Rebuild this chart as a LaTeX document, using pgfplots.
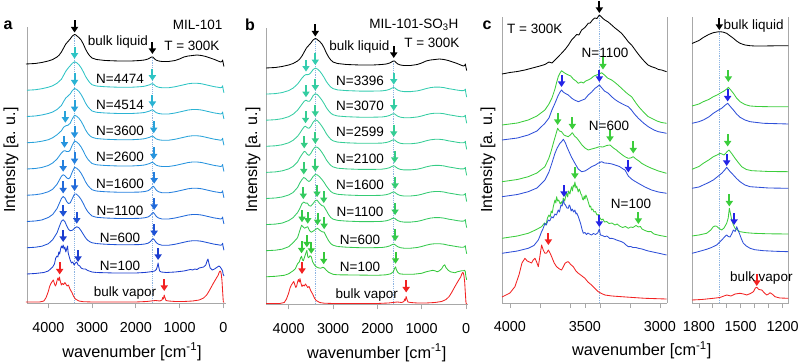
\documentclass[border=0pt]{standalone}
\usepackage{fontspec}
\setmainfont{Liberation Sans}
\usepackage{pgfplots}
\usepackage{pgfplotstable}
\pgfplotsset{compat=1.18}
\usetikzlibrary{arrows.meta}

\definecolor{axgray}{HTML}{A8A8A8}
\definecolor{vlineblue}{HTML}{8DB4E2}
\definecolor{vred}{HTML}{F22222}
\definecolor{a4474}{HTML}{2EC4C4}
\definecolor{a4514}{HTML}{2BB3D3}
\definecolor{a3600}{HTML}{29A3DA}
\definecolor{a2600}{HTML}{2794DE}
\definecolor{a1600}{HTML}{2580DE}
\definecolor{a1100}{HTML}{226ADA}
\definecolor{a600}{HTML}{1F52D5}
\definecolor{a100}{HTML}{1C3DD0}
\definecolor{b3396}{HTML}{35CDB0}
\definecolor{b3070}{HTML}{35CDA2}
\definecolor{b2599}{HTML}{35CD95}
\definecolor{b2100}{HTML}{35CC86}
\definecolor{b1600}{HTML}{35CB74}
\definecolor{b1100}{HTML}{35CA60}
\definecolor{b600}{HTML}{35C94C}
\definecolor{b100}{HTML}{35C83A}
\definecolor{cgreen}{HTML}{3CCD3C}
\definecolor{cblue}{HTML}{2F50D8}
\definecolor{ablue}{HTML}{2424E6}

\newcommand\lab{\fontsize{13.5}{15}\selectfont}
\newcommand\arr[3]{\draw[arw,#1] (axis cs:#2,#3) -- ++(0pt,12pt);}
\newcommand\vl[2]{\addplot[color=vlineblue, line width=0.6pt, dash pattern=on 1.2pt off 1pt] coordinates {(#1,0) (#1,#2)};}

\tikzset{
  arw/.style={{Triangle[width=7pt,length=5.5pt]}-, line width=2pt},
}
\pgfplotsset{
  panel/.style={
    scale only axis, clip=false, x dir=reverse,
    anchor=south west,
    axis x line*=bottom, axis y line*=left, ytick=\empty,
    axis line style={color=axgray, line width=0.8pt},
    tick style={color=axgray, line width=0.8pt},
    tick align=outside, major tick length=5pt, minor tick length=5pt,
    xticklabel style={font=\fontsize{14.4}{16}\selectfont, yshift=-10pt},
    /pgf/number format/assume math mode=true,
    /pgf/number format/set thousands separator={},
    every axis plot/.append style={line width=0.85pt, line join=round},
  },
}

% ---------- bulk liquid / vapour (panels a, b)
\pgfplotstableread{
x h
4510 0
4300 0.5
4150 1.5
4000 3
3900 4.5
3800 7
3750 9
3700 12
3650 16
3600 20
3550 22.5
3500 25
3450 28
3400 29.5
3370 29
3330 27.5
3300 26.5
3250 24
3200 20
3150 15
3100 11
3050 8
3000 6
2900 4.5
2700 3.5
2400 3
2100 3
1900 3.5
1800 4
1720 5
1680 6
1640 7
1610 7
1580 5.5
1540 4
1480 3
1400 2.5
1250 2.5
1100 3.5
1000 5
900 7
800 8
700 8.5
600 9
500 8.5
400 7.5
300 6
200 4.5
120 3
60 2
30 2.5
15 4
5 1.5
-15 -2.5
}\tLiq

\pgfplotstableread{
x h
4510 1.5
4200 1.5
4100 2.5
4050 6
4000 12
3970 17
3940 20
3910 22
3885 23.5
3860 20
3840 17.5
3820 19
3800 23
3780 25.5
3760 23
3745 26.5
3725 22
3700 18.5
3680 20
3650 19
3620 21
3600 19.5
3570 17.5
3540 18.5
3500 14
3460 11
3420 7
3380 4.5
3300 2.5
3200 1.8
3000 1.5
2500 1.5
2000 1.5
1750 2
1650 2.5
1550 3
1450 2.5
1400 3.5
1385 6
1370 4.5
1350 8.5
1335 6
1310 3
1250 2.5
1100 2
900 2
700 2.5
550 3.5
450 5.5
380 8.5
330 12
280 16
230 20
190 23
150 26
120 28
95 31
75 32.5
60 32
45 29
30 23
15 12
0 2
-15 1
}\tVap

% ---------- panel a, O-H region of each loading
\pgfplotstableread{
x h
4487 0
4300 0.5
4150 1.5
4000 3
3900 4.5
3800 7
3700 11
3650 15
3600 19
3550 22
3500 24.5
3450 27
3400 28.5
3350 27.5
3300 25.5
3250 22.5
3200 18.5
3150 14
3100 10.5
3050 7.5
3000 5.5
2900 4.2
}\hAa
\pgfplotstableread{
x h
4487 0
4300 0.5
4150 1.5
4000 3
3900 4.5
3800 7
3700 11
3650 15
3600 18.5
3550 20.5
3500 22.5
3450 26
3400 28
3350 27
3300 25
3250 22
3200 18
3150 13.5
3100 10
3050 7.5
3000 5.5
2900 4.2
}\hAb
\pgfplotstableread{
x h
4487 0
4300 0.5
4150 1.5
4000 3
3900 5
3800 8
3700 12
3650 15.5
3600 17
3550 17.5
3500 19.5
3450 24
3400 27.5
3350 26.5
3300 24.5
3250 21.5
3200 17.5
3150 13
3100 9.5
3050 7
3000 5.5
2900 4.2
}\hAc
\pgfplotstableread{
x h
4487 0
4300 0.5
4150 1.5
4000 3.5
3900 6
3800 10
3750 13
3700 16
3650 18
3620 18.3
3580 17.5
3530 17.5
3500 19
3450 24
3400 28
3350 27
3300 25
3250 22
3200 18
3150 13.5
3100 10
3050 7.5
3000 5.5
2900 4.2
}\hAd
\pgfplotstableread{
x h
4487 0
4300 0.5
4150 1.5
4000 3.5
3900 6
3800 11
3750 15
3700 19
3660 20.5
3620 19.5
3570 17
3530 16.5
3500 18
3450 23.5
3400 28
3350 27
3300 25
3250 22
3200 18
3150 13.5
3100 10
3050 7.5
3000 5.5
2900 4.2
}\hAe
\pgfplotstableread{
x h
4487 0
4300 0.5
4150 1.5
4000 4
3900 7
3800 13
3750 18
3700 23
3660 25
3620 23.5
3580 20
3540 18
3500 18.5
3450 23
3400 27.5
3360 27.5
3300 25
3250 22
3200 18
3150 13.5
3100 10
3050 7.5
3000 5.5
2900 4.2
}\hAf
\pgfplotstableread{
x h
4487 0
4300 0.5
4150 1.5
4000 4
3900 8
3800 15
3750 21
3700 26.5
3660 28
3620 26
3580 22
3540 18.5
3500 17
3450 17.5
3400 19.5
3350 21
3300 20
3250 17
3200 13.5
3150 10
3100 7.5
3050 6
3000 5
2900 4.2
}\hAg
\pgfplotstableread{
x h
4487 0
4300 0.5
4100 1.5
4000 3
3900 7
3860 10
3830 16
3800 18
3780 17
3760 22
3740 20
3720 25
3700 28
3680 26
3660 29
3640 25
3620 27
3600 22
3580 25
3560 28
3545 21
3520 17
3500 14
3470 11
3440 12
3410 9
3380 11
3350 12
3320 9
3280 8
3250 6
3200 5
3150 5
3100 3.5
3000 2
2900 1.5
}\hAh

% ---------- panel a, low-frequency part
\pgfplotstableread{
x h
2900 4.2
2700 3.5
2400 3
2100 3
1900 3.5
1800 4
1720 5
1680 5.5
1640 6.5
1610 6.5
1580 5.5
1540 4
1480 3
1400 2.5
1250 2.5
1100 3.5
1000 4.5
900 5.5
800 6.5
700 7
600 7
500 6.5
400 5.5
300 4.5
200 3.5
120 3
60 2.5
30 3
15 4.5
5 1.5
-15 -2.5
}\tailA
\pgfplotstableread{
x h
2900 4.2
2700 3.5
2400 3
2100 3
1900 3.2
1800 3.7
1720 4.5
1670 6
1630 8
1600 9
1570 7.5
1530 5
1480 3.5
1400 2.5
1250 2.5
1100 3.5
1000 4.5
900 5.5
800 6.5
700 7
600 7
500 6.5
400 5.5
300 4.5
200 3.5
120 3
60 2.5
30 3
15 4.5
5 1.5
-15 -2.5
}\tailB
\pgfplotstableread{
x h
2900 1.5
2500 1
2000 1
1800 1.5
1700 2
1620 2.5
1570 3
1530 4.5
1505 8
1490 11
1475 7
1455 3
1420 2
1300 1.5
1100 2
900 3
800 4
750 4.5
700 4
650 5
600 4.5
550 6
500 6.5
450 7
400 9
370 13
350 15
330 11
300 6
250 4
200 5
150 6.5
100 8
70 7
40 5
15 3
5 0
-15 -2
}\tailAh

% ---------- panel b, O-H region
\pgfplotstableread{
x h
4510 0
4300 0.5
4150 1.5
4000 3.5
3900 6
3800 10
3750 13
3700 16
3650 18.5
3610 19.5
3570 19.5
3530 20
3500 21.5
3450 24.5
3400 26
3350 25
3300 23
3250 20
3200 16.5
3150 12.5
3100 9.5
3050 7
3000 5.5
2900 4.2
}\hBa
\pgfplotstableread{
x h
4510 0
4300 0.5
4150 1.5
4000 3.5
3900 6
3800 10
3750 13
3700 16
3650 19
3610 20
3570 19
3530 19
3500 20.5
3450 24.5
3400 26.5
3350 25.5
3300 23
3250 20
3200 16.5
3150 12.5
3100 9.5
3050 7
3000 5.5
2900 4.2
}\hBb
\pgfplotstableread{
x h
4510 0
4300 0.5
4150 1.5
4000 3.5
3900 6
3800 10
3750 13
3700 16.5
3650 19.5
3620 20
3580 18.5
3540 18
3500 20
3450 24
3400 26.5
3350 25.5
3300 23
3250 20
3200 16.5
3150 12.5
3100 9.5
3050 7
3000 5.5
2900 4.2
}\hBc
\pgfplotstableread{
x h
4510 0
4300 0.5
4150 1.5
4000 3.5
3900 6
3800 10.5
3750 14.5
3700 18
3650 21
3620 20.5
3580 18
3540 17
3500 19
3450 23
3400 25.5
3350 25
3300 23
3250 20
3200 16.5
3150 12.5
3100 9.5
3050 7
3000 5.5
2900 4.2
}\hBd
\pgfplotstableread{
x h
4510 0
4300 0.5
4150 1.5
4000 3.5
3900 6
3800 11
3750 15.5
3700 19
3660 21
3620 20
3580 18
3540 17
3500 18.5
3450 22
3400 24
3350 23.5
3300 21.5
3250 19
3200 16
3150 12.5
3100 9.5
3050 7
3000 5.5
2900 4.2
}\hBe
\pgfplotstableread{
x h
4510 0
4300 0.5
4150 1.5
4000 4
3900 7
3800 12
3750 16
3700 21
3660 22.5
3620 21.5
3580 21.5
3540 19
3500 18.5
3450 21
3400 24
3360 24.5
3300 21
3250 19
3210 18.5
3150 14
3100 10
3050 7
3000 5.5
2900 4.2
}\hBf
\pgfplotstableread{
x h
4510 0
4300 0.5
4150 1.5
4000 4
3900 8
3800 13
3750 20
3710 25.5
3680 24
3640 22.5
3600 23.5
3570 24
3530 20
3490 18.5
3450 19.5
3400 21
3350 22.5
3300 20.5
3250 19
3200 18.5
3150 14
3100 10
3050 7
3000 5.5
2900 4.2
}\hBg
\pgfplotstableread{
x h
4510 0
4300 0.5
4100 1.5
4000 3
3900 6
3850 8
3800 13
3760 15
3730 19
3710 20.5
3690 17
3670 16
3640 20
3610 24
3590 26.5
3570 20
3550 19
3520 21
3490 20
3460 15
3420 12
3380 10
3330 9
3280 8.5
3230 9.5
3200 9
3150 6.5
3100 4.5
3000 2.5
2900 2
}\hBh

% ---------- panel b, low-frequency part
\pgfplotstableread{
x h
2900 4.2
2700 3.5
2400 3
2100 3
1900 3.2
1800 3.8
1720 4.8
1680 5.8
1640 6.5
1610 6.3
1580 5.2
1540 4
1480 3
1400 2.5
1250 2.5
1100 3.2
1000 4.2
900 5.5
800 6.5
700 7
600 7
500 6.5
400 5.5
300 4.8
200 4
120 3.5
60 3.5
30 4
15 5
5 1.5
-15 -3
}\tailC
\pgfplotstableread{
x h
2900 2
2000 1.5
1800 2
1700 3
1640 5
1610 8.5
1590 10
1570 7
1540 4.5
1500 3
1400 2.5
1200 2.5
1000 3.5
900 5
800 6
750 6.5
700 6
650 5
600 6
550 8
510 11
480 12
450 9
400 6.5
350 5
300 4.5
250 4
200 5
150 5.5
100 6
60 6
30 6.5
15 5
5 1
-15 -3
}\tailCh

\begin{document}
\begin{tikzpicture}
\useasboundingbox (0pt,0pt) rectangle (800pt,363pt);

% ================= panel a
\begin{axis}[panel, at={(27pt,59.5pt)}, width=199pt, height=276.5pt,
  xmin=-62, xmax=4487, ymin=0, ymax=276.5, xtick={4000,3000,2000,1000,0}]
\vl{3400}{268}
\vl{1620}{245}
\addplot[black] table[y expr=\thisrow{h}+239.5] {\tLiq};
\addplot[a4474] table[y expr=\thisrow{h}+213.25] {\hAa};
\addplot[a4474] table[y expr=\thisrow{h}+213.25] {\tailA};
\addplot[a4514] table[y expr=\thisrow{h}+187] {\hAb};
\addplot[a4514] table[y expr=\thisrow{h}+187] {\tailA};
\addplot[a3600] table[y expr=\thisrow{h}+160.75] {\hAc};
\addplot[a3600] table[y expr=\thisrow{h}+160.75] {\tailA};
\addplot[a2600] table[y expr=\thisrow{h}+134.5] {\hAd};
\addplot[a2600] table[y expr=\thisrow{h}+134.5] {\tailA};
\addplot[a1600] table[y expr=\thisrow{h}+108.25] {\hAe};
\addplot[a1600] table[y expr=\thisrow{h}+108.25] {\tailB};
\addplot[a1100] table[y expr=\thisrow{h}+82] {\hAf};
\addplot[a1100] table[y expr=\thisrow{h}+82] {\tailB};
\addplot[a600] table[y expr=\thisrow{h}+55.75] {\hAg};
\addplot[a600] table[y expr=\thisrow{h}+55.75] {\tailB};
\addplot[a100] table[y expr=\thisrow{h}+29.5] {\hAh};
\addplot[a100] table[y expr=\thisrow{h}+29.5] {\tailAh};
\addplot[vred] table[y expr=\thisrow{h}] {\tVap};
\arr{black}{3400}{271}
\arr{black}{1620}{249.5}
\arr{a4474}{3400}{244.75}
\arr{a4474}{1620}{222.75}
\arr{a4514}{3400}{218}
\arr{a4514}{1620}{196.5}
\arr{a3600}{3610}{180.75}
\arr{a3600}{3400}{191.25}
\arr{a3600}{1590}{170.25}
\arr{a2600}{3630}{155.8}
\arr{a2600}{3400}{165.5}
\arr{a2600}{1590}{144}
\arr{a1600}{3660}{131.75}
\arr{a1600}{3400}{139.25}
\arr{a1600}{1580}{119.75}
\arr{a1100}{3660}{110}
\arr{a1100}{3400}{112.5}
\arr{a1100}{1580}{93.5}
\arr{a600}{3660}{86.75}
\arr{a600}{3350}{79.75}
\arr{a600}{1580}{67.25}
\arr{a100}{3660}{61.5}
\arr{a100}{3320}{41.5}
\arr{a100}{1490}{43.5}
\arr{vred}{3740}{29}
\arr{vred}{1350}{12.5}
\end{axis}

% ================= panel b
\begin{axis}[panel, at={(266pt,58.5pt)}, width=202pt, height=276.5pt,
  xmin=-45, xmax=4512, ymin=0, ymax=276.5, xtick={4000,3000,2000,1000,0}]
\vl{3390}{265}
\vl{1645}{243}
\addplot[black] table[y expr=\thisrow{h}+236.5] {\tLiq};
\addplot[b3396] table[y expr=\thisrow{h}+210.4] {\hBa};
\addplot[b3396] table[y expr=\thisrow{h}+210.4] {\tailC};
\addplot[b3070] table[y expr=\thisrow{h}+184.3] {\hBb};
\addplot[b3070] table[y expr=\thisrow{h}+184.3] {\tailC};
\addplot[b2599] table[y expr=\thisrow{h}+158.2] {\hBc};
\addplot[b2599] table[y expr=\thisrow{h}+158.2] {\tailC};
\addplot[b2100] table[y expr=\thisrow{h}+132.1] {\hBd};
\addplot[b2100] table[y expr=\thisrow{h}+132.1] {\tailC};
\addplot[b1600] table[y expr=\thisrow{h}+106] {\hBe};
\addplot[b1600] table[y expr=\thisrow{h}+106] {\tailC};
\addplot[b1100] table[y expr=\thisrow{h}+79.9] {\hBf};
\addplot[b1100] table[y expr=\thisrow{h}+79.9] {\tailC};
\addplot[b600] table[y expr=\thisrow{h}+53.8] {\hBg};
\addplot[b600] table[y expr=\thisrow{h}+53.8] {\tailC};
\addplot[b100] table[y expr=\thisrow{h}+27.7] {\hBh};
\addplot[b100] table[y expr=\thisrow{h}+27.7] {\tailCh};
\addplot[vred] table[y expr=\thisrow{h}-0.5] {\tVap};
\arr{black}{3400}{268}
\arr{black}{1630}{246.5}
\arr{b3396}{3610}{232.9}
\arr{b3396}{3400}{239.4}
\arr{b3396}{1630}{219.9}
\arr{b3070}{3610}{207.3}
\arr{b3070}{3400}{213.8}
\arr{b3070}{1630}{193.8}
\arr{b2599}{3620}{181.2}
\arr{b2599}{3400}{187.7}
\arr{b2599}{1630}{167.7}
\arr{b2100}{3650}{156.1}
\arr{b2100}{3400}{160.6}
\arr{b2100}{1610}{141.6}
\arr{b1600}{3660}{130}
\arr{b1600}{3400}{133}
\arr{b1600}{1600}{115.5}
\arr{b1100}{3670}{105.4}
\arr{b1100}{3360}{107.4}
\arr{b1100}{3210}{101.4}
\arr{b1100}{1600}{89.4}
\arr{b600}{3700}{82.3}
\arr{b600}{3570}{80.8}
\arr{b600}{3350}{79.3}
\arr{b600}{3200}{75.3}
\arr{b600}{1600}{63.3}
\arr{b100}{3710}{51.2}
\arr{b100}{3590}{57.2}
\arr{b100}{3490}{50.7}
\arr{b100}{3210}{40.2}
\arr{b100}{1590}{40.7}
\arr{vred}{3700}{30.5}
\arr{vred}{1350}{12}
\end{axis}

% ================= panel c
\begin{axis}[panel, at={(502pt,60pt)}, width=165pt, height=286pt,
  xmin=2953, xmax=4053, ymin=0, ymax=286,
  xtick={4000,3800,3600,3500,3400,3200,3000}, xticklabels={4000,,,3500,,,3000}]
\draw[axgray, line width=0.8pt] (rel axis cs:0,0) -- (rel axis cs:0,1);
\draw[axgray, line width=0.8pt] (rel axis cs:1,0) -- (rel axis cs:1,1);
\vl{3404}{287}
\addplot[black] coordinates {
(4053,229) (4000,230.5) (3950,231.5) (3900,233) (3850,235) (3800,237) (3767,238.5)
(3740,241) (3720,240) (3700,243) (3680,246) (3656,249.7) (3630,254) (3610,258)
(3589,263) (3570,266) (3555,268.5) (3540,268) (3522,273) (3500,275.5) (3478,279.7)
(3465,280) (3450,283) (3435,285) (3420,284.5) (3404,288) (3390,286) (3380,284.5)
(3367,283) (3345,281) (3322,278) (3300,275) (3278,272.5) (3256,269.7) (3230,265)
(3210,261) (3189,258) (3160,252) (3140,248) (3122,244.7) (3100,241) (3080,238)
(3056,236.3) (3030,235) (3010,233.5) (2989,233) (2956,231.3)};
\addplot[cgreen] coordinates {
(4053,178) (3950,180) (3878,183) (3820,187) (3767,193) (3740,199) (3720,205)
(3700,214) (3690,220) (3678,226.3) (3666,230) (3656,232.3) (3645,231) (3630,229.5)
(3611,228) (3595,227) (3578,224) (3560,222) (3544,219.7) (3525,221) (3510,220)
(3495,222) (3478,223) (3460,224.5) (3440,227) (3422,228) (3405,229) (3389,230.3)
(3370,228) (3350,225) (3322,223) (3300,220.5) (3280,218) (3256,214.7) (3230,211)
(3210,208.5) (3189,206.3) (3160,200) (3140,196) (3122,193) (3100,189.5) (3080,186.5)
(3056,184.7) (3020,182) (2990,180.5) (2956,179.7)};
\addplot[cblue] coordinates {
(4053,163) (3950,165) (3878,168) (3820,172) (3767,179.7) (3740,185) (3720,193)
(3700,199.7) (3680,207) (3666,211) (3656,213) (3645,211) (3630,209.5) (3611,208)
(3590,205) (3570,203) (3544,201.3) (3525,202.5) (3500,204) (3478,208) (3455,211)
(3433,214.7) (3420,216) (3404,218) (3390,215.5) (3370,212) (3344,209.7) (3320,206)
(3300,203.5) (3278,201.3) (3250,199) (3230,197.5) (3211,196.3) (3190,193) (3170,189)
(3144,184.7) (3110,180) (3078,176.3) (3040,173) (3011,171.3) (2956,169.7)};
\addplot[cgreen] coordinates {
(4053,121.3) (3950,123.5) (3878,126.3) (3820,130) (3767,136.3) (3740,145) (3725,152)
(3711,159.7) (3695,168) (3682,174.7) (3670,172) (3656,171.3) (3640,168) (3625,167)
(3611,166.3) (3598,168) (3584,170.3) (3570,167) (3555,165) (3544,163) (3520,158)
(3500,155) (3478,153) (3455,154) (3430,155) (3404,156.3) (3380,156) (3355,157.5)
(3333,158) (3310,155) (3290,153) (3278,151.3) (3250,148) (3230,146) (3211,144.7)
(3195,145) (3178,146.3) (3160,144) (3140,142) (3122,139.7) (3090,137) (3056,134.7)
(3010,132) (2956,129.7)};
\addplot[cblue] coordinates {
(4053,106.3) (3950,108.5) (3878,111.3) (3820,115) (3767,123) (3740,131) (3720,140)
(3700,149.7) (3685,155) (3667,159.7) (3655,161.5) (3644,163.7) (3630,160) (3620,156)
(3611,153) (3590,146) (3567,139.7) (3545,134) (3522,131.3) (3500,132) (3478,134)
(3456,136.3) (3430,138) (3410,140) (3389,141.3) (3370,140) (3344,139.7) (3320,139)
(3300,138) (3270,136.5) (3245,134) (3233,133) (3211,127) (3190,124) (3170,122)
(3144,119.7) (3100,116) (3056,113) (3010,111) (2956,109.7)};
\addplot[cgreen] coordinates {
(4053,64.7) (3950,67) (3878,69.7) (3830,73) (3789,76.3) (3770,80) (3760,78)
(3750,85) (3740,88) (3732,86) (3725,92) (3718,90) (3711,96.3) (3700,103)
(3694,100) (3689,106.3) (3682,102) (3675,103) (3665,99) (3656,101.3) (3650,98)
(3645,105) (3635,102) (3628,107) (3622,109.7) (3615,106) (3610,112) (3600,109)
(3595,113) (3589,116.3) (3583,112) (3578,118) (3572,116) (3567,121) (3560,115)
(3555,117) (3545,111) (3538,114) (3533,112) (3527,109) (3522,108) (3516,104)
(3511,103) (3505,107) (3500,104) (3494,108) (3489,106.3) (3484,104) (3478,101)
(3468,96) (3462,97) (3456,93) (3448,94) (3440,91) (3430,91.5) (3420,88)
(3410,88.5) (3400,85) (3389,83) (3380,84) (3370,81) (3355,81.5) (3340,79.5)
(3320,80) (3300,78) (3285,79) (3270,77) (3250,75.5) (3230,76.5) (3211,74.7)
(3195,76) (3180,75.5) (3160,77.5) (3144,76) (3130,76.5) (3120,74) (3100,72.5)
(3078,71.3) (3060,71.5) (3040,69) (3000,67.5) (2956,66.3)};
\addplot[cblue] coordinates {
(4053,49.7) (3950,52) (3878,54.7) (3840,57.5) (3811,63) (3800,67) (3790,71)
(3780,74) (3767,79.7) (3758,78) (3745,83) (3735,82) (3722,86.3) (3712,85)
(3700,89) (3690,88) (3678,93) (3670,91) (3660,98) (3652,97) (3644,103)
(3637,99) (3630,98) (3620,95) (3611,94.7) (3605,98) (3600,97) (3592,92)
(3585,94) (3575,91) (3567,93) (3560,89) (3555,90) (3544,86.3) (3537,83)
(3530,80) (3520,74) (3511,69.7) (3500,70.5) (3490,68.5) (3480,70) (3470,69)
(3456,68) (3443,69.5) (3430,68.5) (3415,70) (3404,74) (3397,68) (3385,67.5)
(3367,66.3) (3355,67) (3345,66) (3335,64.5) (3322,64.7) (3305,64) (3290,63)
(3270,62) (3256,61.3) (3240,60) (3230,58.5) (3211,56.3) (3195,56.5) (3180,55.5)
(3160,55.5) (3144,54.7) (3120,54) (3100,53) (3078,52) (3056,51.3) (3000,49.5)
(2956,48)};
\addplot[vred] coordinates {
(4053,6) (4000,10) (3967,16.3) (3940,28) (3920,40) (3900,44.7) (3885,42)
(3870,41) (3856,40) (3845,43) (3833,44.7) (3822,41) (3811,36.3) (3800,47)
(3789,58) (3778,53) (3767,49.7) (3755,50) (3744,53) (3733,50) (3722,46.3)
(3705,40) (3689,36.3) (3670,34) (3656,33) (3645,36) (3633,39.7) (3620,41)
(3611,41.3) (3595,38.5) (3578,36.3) (3560,32) (3544,29.7) (3520,27) (3500,24.7)
(3480,21) (3456,18) (3430,14) (3411,11.3) (3390,9.5) (3367,8) (3320,7)
(3256,6.3) (3180,5.5) (3100,4.7) (3000,4.2) (2956,4)};
\arr{black}{3404}{290}
\arr{cgreen}{3380}{233.5}
\arr{ablue}{3656}{216}
\arr{ablue}{3404}{221}
\arr{cgreen}{3682}{178}
\arr{cgreen}{3584}{173.5}
\arr{cgreen}{3333}{161}
\arr{cgreen}{3178}{149.5}
\arr{ablue}{3211}{130.5}
\arr{cgreen}{3567}{124}
\arr{cgreen}{3144}{79}
\arr{ablue}{3640}{106}
\arr{ablue}{3404}{76}
\arr{vred}{3744}{58}
\end{axis}

% ================= panel d
\begin{axis}[panel, at={(692pt,60pt)}, width=96.5pt, height=286pt,
  xmin=1157, xmax=1850, ymin=0, ymax=286,
  xtick={1800,1700,1600,1500,1400,1300,1200}, xticklabels={1800,,,1500,,,1200}]
\draw[axgray, line width=0.8pt] (rel axis cs:1,0) -- (rel axis cs:1,1);
\vl{1654}{271}
\addplot[black] coordinates {
(1850,259.5) (1800,262.5) (1769,265.5) (1730,268.5) (1697,270.3) (1670,271)
(1654,271.3) (1630,271) (1601,269.7) (1580,267.5) (1553,264.7) (1530,262)
(1505,259.7) (1470,258) (1433,257.3) (1400,257) (1337,257) (1250,257.2) (1158,257.3)};
\addplot[cgreen] coordinates {
(1850,197) (1800,199) (1769,201.3) (1730,203.5) (1697,206.3) (1670,208) (1649,209.7)
(1620,212) (1600,214) (1589,215.7) (1575,213.5) (1553,209.7) (1530,205) (1505,201.3)
(1470,198.5) (1433,197) (1380,196.5) (1300,196.3) (1158,196.3)};
\addplot[cblue] coordinates {
(1850,179.7) (1800,181.3) (1769,183) (1730,186) (1697,189.7) (1665,192.5) (1637,194.7)
(1610,198) (1594,199.7) (1575,196.5) (1553,193) (1530,189) (1505,185.7) (1470,183)
(1433,181.3) (1337,179.7) (1158,179)};
\addplot[cgreen] coordinates {
(1850,133.7) (1800,136.5) (1769,139.7) (1730,143) (1697,146.3) (1670,148) (1649,149.7)
(1635,149) (1620,148) (1600,151) (1585,153) (1565,149.5) (1541,144.7) (1515,140)
(1493,136.3) (1460,133.5) (1421,132.3) (1300,131.5) (1158,131.3)};
\addplot[cblue] coordinates {
(1850,114.7) (1800,116) (1769,118) (1730,120.5) (1697,123) (1665,126.5) (1637,129.7)
(1615,133) (1601,135.7) (1580,132) (1553,128) (1530,124.5) (1505,121.3) (1470,118)
(1433,116.3) (1300,115) (1158,114.7)};
\addplot[cgreen] coordinates {
(1850,67) (1800,68) (1745,69.7) (1715,73) (1697,76.3) (1685,77) (1673,76.7)
(1655,74.5) (1637,73) (1620,75) (1601,79.7) (1590,85) (1582,94.7) (1573,89)
(1565,83) (1553,78) (1541,74.7) (1520,72.5) (1505,71.3) (1460,70.3) (1409,69.7)
(1300,69.2) (1158,69)};
\addplot[cblue] coordinates {
(1850,49.7) (1800,51.5) (1745,53.7) (1710,55.5) (1673,58) (1650,61) (1625,64.7)
(1610,67) (1601,68) (1590,66.5) (1577,66) (1565,69) (1553,73) (1540,71.5)
(1529,76.3) (1520,73) (1510,69.7) (1495,64) (1481,59.7) (1460,57) (1433,54.7)
(1400,53.3) (1337,52.3) (1250,51.7) (1158,51.3)};
\addplot[vred] coordinates {
(1850,3) (1780,3.5) (1697,4.7) (1650,5.5) (1601,8) (1570,7) (1540,9) (1505,9.7)
(1480,9) (1457,8) (1430,9.5) (1409,11.3) (1395,15) (1385,15.7) (1370,13.5)
(1349,13) (1330,10) (1313,8) (1300,9) (1290,10.3) (1275,9) (1254,6.3) (1220,5)
(1158,4.7)};
\arr{black}{1654}{273}
\arr{cgreen}{1589}{221}
\arr{ablue}{1594}{201.5}
\arr{cgreen}{1594}{156.5}
\arr{ablue}{1601}{137}
\arr{cgreen}{1582}{96.5}
\arr{ablue}{1548}{78}
\arr{vred}{1385}{17}
\end{axis}

% ================= texts
\node[font=\fontsize{16}{18}\selectfont\bfseries] at (8pt,338pt) {a};
\node[font=\fontsize{16}{18}\selectfont\bfseries] at (250pt,338pt) {b};
\node[font=\fontsize{16}{18}\selectfont\bfseries] at (487pt,337.5pt) {c};

\node[anchor=east, font=\lab] at (226pt,338pt) {MIL-101};
\node[anchor=east, font=\lab] at (223pt,317.3pt) {T = 300K};
\node[font=\lab] at (118pt,321.3pt) {bulk liquid};
\node[font=\lab] at (120pt,283.7pt) {N=4474};
\node[font=\lab] at (120pt,258.5pt) {N=4514};
\node[font=\lab] at (120pt,232.5pt) {N=3600};
\node[font=\lab] at (120pt,206pt) {N=2600};
\node[font=\lab] at (120pt,179pt) {N=1600};
\node[font=\lab] at (120pt,152pt) {N=1100};
\node[font=\lab] at (120pt,124.7pt) {N=600};
\node[font=\lab] at (120pt,97.5pt) {N=100};
\node[font=\lab] at (125pt,69.7pt) {bulk vapor};

\node[anchor=east, font=\lab] at (462pt,338pt) {MIL-101-SO\textsubscript{3}H};
\node[anchor=east, font=\lab] at (463pt,319.7pt) {T = 300K};
\node[font=\lab] at (359.3pt,316.3pt) {bulk liquid};
\node[font=\lab] at (360pt,282pt) {N=3396};
\node[font=\lab] at (360pt,257pt) {N=3070};
\node[font=\lab] at (360pt,231.3pt) {N=2599};
\node[font=\lab] at (360pt,203.7pt) {N=2100};
\node[font=\lab] at (360pt,178pt) {N=1600};
\node[font=\lab] at (360pt,150.7pt) {N=1100};
\node[font=\lab] at (360pt,123pt) {N=600};
\node[font=\lab] at (360pt,95.7pt) {N=100};
\node[font=\lab] at (366.7pt,68pt) {bulk vapor};

\node[font=\lab] at (534.7pt,333.7pt) {T = 300K};
\node[font=\lab] at (605pt,309.7pt) {N=1100};
\node[font=\lab] at (609pt,237pt) {N=600};
\node[font=\lab] at (631pt,159pt) {N=100};
\node[anchor=west, font=\lab] at (720pt,337.3pt) {bulk liquid};
\node[anchor=west, font=\lab] at (726.7pt,84.7pt) {bulk vapor};

\node[rotate=90, font=\fontsize{16}{18}\selectfont] at (11pt,203pt) {Intensity [a. u.]};
\node[rotate=90, font=\fontsize{16}{18}\selectfont] at (253pt,203pt) {Intensity [a. u.]};
\node[rotate=90, font=\fontsize{16}{18}\selectfont] at (488pt,203pt) {Intensity [a. u.]};
\node[font=\fontsize{16.3}{18}\selectfont] at (132pt,11.3pt) {wavenumber [cm\textsuperscript{-1}]};
\node[font=\fontsize{16.3}{18}\selectfont] at (376.7pt,10.3pt) {wavenumber [cm\textsuperscript{-1}]};
\node[font=\fontsize{16.3}{18}\selectfont] at (641.7pt,13pt) {wavenumber [cm\textsuperscript{-1}]};
\end{tikzpicture}
\end{document}
